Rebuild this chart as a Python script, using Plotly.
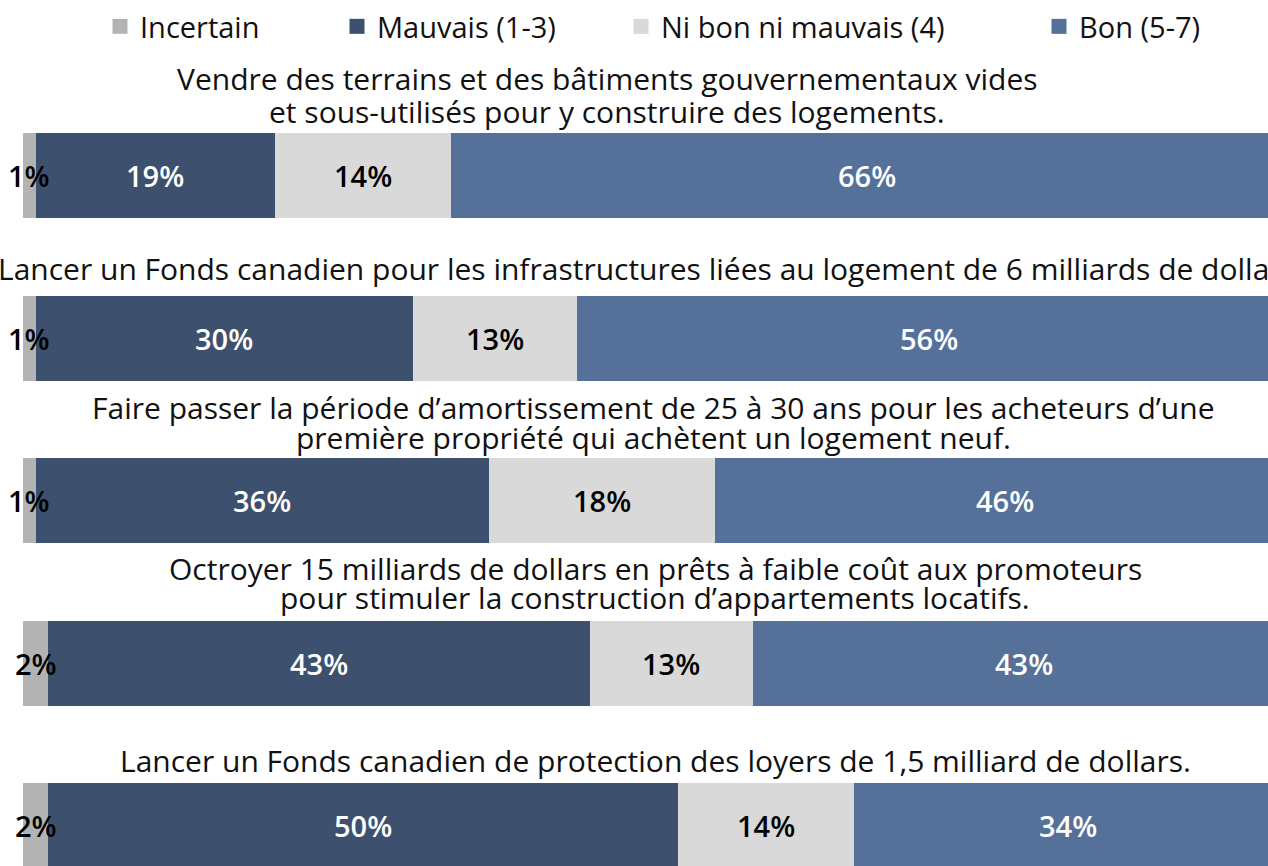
import plotly.graph_objects as go

questions = [
    "Vendre des terrains et des bâtiments gouvernementaux vides<br>et sous-utilisés pour y construire des logements.",
    "Lancer un Fonds canadien pour les infrastructures liées au logement de 6 milliards de dollars.",
    "Faire passer la période d’amortissement de 25 à 30 ans pour les acheteurs d’une<br>première propriété qui achètent un logement neuf.",
    "Octroyer 15 milliards de dollars en prêts à faible coût aux promoteurs<br>pour stimuler la construction d’appartements locatifs.",
    "Lancer un Fonds canadien de protection des loyers de 1,5 milliard de dollars.",
]
series_names = ["Incertain", "Mauvais (1-3)", "Ni bon ni mauvais (4)", "Bon (5-7)"]
incertain = [1, 1, 1, 2, 2]
mauvais = [19, 30, 36, 43, 50]
ni_bon = [14, 13, 18, 13, 14]
bon = [66, 56, 46, 43, 34]

colors = ["#b3b3b3", "#3d506e", "#d9d9d9", "#557199"]
text_colors = ["#000000", "#ffffff", "#000000", "#ffffff"]

W, H = 1268, 866
PX_PER_PCT = 12.59
LEFT = 23
ROW_PX = 162.5
ROW0_PX = 175.5
FONT = "Open Sans"
LABEL_FONT_SIZE = 29

def px_to_y(py):
    return (py - ROW0_PX) / ROW_PX

def px_to_x(px):
    return (px - LEFT) / PX_PER_PCT

ypos = list(range(len(questions)))
fig = go.Figure()
values = [incertain, mauvais, ni_bon, bon]
legend_ids = ["legend", "legend2", "legend3", "legend4"]
for i, (name, vals) in enumerate(zip(series_names, values)):
    fig.add_trace(go.Bar(
        y=ypos, x=vals, name=name, orientation="h",
        marker=dict(color=colors[i], line=dict(width=0)),
        width=85 / ROW_PX,
        showlegend=False,
        hoverinfo="skip",
    ))
    # legend entry with a larger square swatch
    fig.add_trace(go.Scatter(
        x=[None], y=[None], mode="markers", name=name,
        marker=dict(symbol="square", size=15, color=colors[i]),
        legend=legend_ids[i], showlegend=True, hoverinfo="skip",
    ))

# value labels centred in each segment (drawn above all bars)
base = [0] * len(questions)
for i, vals in enumerate(values):
    for r, v in enumerate(vals):
        fig.add_annotation(
            x=base[r] + v / 2, y=ypos[r], xref="x", yref="y",
            text=f"{v}%", showarrow=False, xanchor="center", yanchor="middle",
            font=dict(family=FONT, size=LABEL_FONT_SIZE, color=text_colors[i], weight=600),
        )
        base[r] += v

title_cx = [607, 651, 653, 655, 655]
title_line_cy = [[78, 111.5], [268], [407, 437.5], [568.5, 597.5], [760]]
for q, cx, cys in zip(questions, title_cx, title_line_cy):
    for line, cy in zip(q.split("<br>"), cys):
        fig.add_annotation(
            x=px_to_x(cx), y=px_to_y(cy), xref="x", yref="y",
            text=line, showarrow=False, xanchor="center", yanchor="middle",
            font=dict(family=FONT, size=30, color="#111111"),
            align="center",
        )

legend_x = [100, 337, 621, 1039]
layout_legends = {}
for lid, lx in zip(legend_ids, legend_x):
    layout_legends[lid] = dict(
        x=lx / W, y=1 - 26.5 / H, xref="container", yref="container",
        xanchor="left", yanchor="middle", orientation="h",
        font=dict(family=FONT, size=29, color="#111111"),
        bgcolor="rgba(0,0,0,0)", borderwidth=0, itemsizing="trace",
    )

fig.update_layout(
    width=W, height=H,
    barmode="stack",
    margin=dict(l=0, r=0, t=0, b=0, autoexpand=False),
    paper_bgcolor="white", plot_bgcolor="white",
    xaxis=dict(range=[px_to_x(0), px_to_x(W)], visible=False, fixedrange=True),
    yaxis=dict(range=[px_to_y(H), px_to_y(0)], visible=False, fixedrange=True),
    showlegend=True,
    **layout_legends,
)

fig.write_html(
    "out.html",
    config={"displayModeBar": False},
    post_script="document.body.style.margin='0';document.body.style.overflow='hidden';",
)
